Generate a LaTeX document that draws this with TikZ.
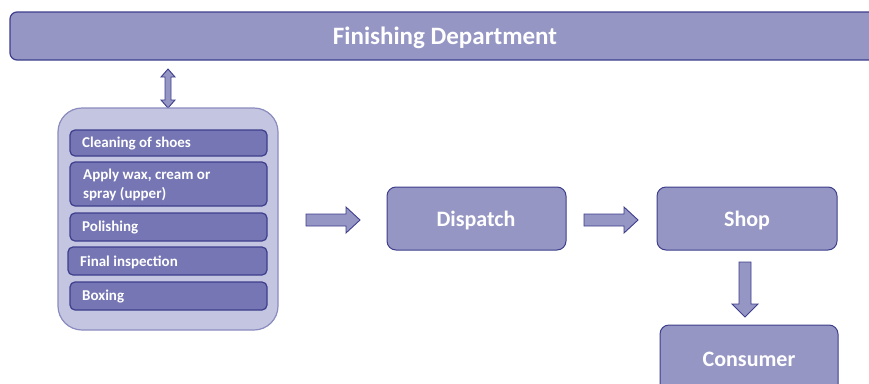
\documentclass[tikz,border=0pt]{standalone}
\usepackage{fontspec}
\setmainfont{Carlito}
\begin{document}
\begin{tikzpicture}[x=1pt,y=-1pt,
  bar/.style={draw=edgeblue,line width=1.2pt,fill=midblue,rounded corners=7pt},
  outer/.style={draw=lightedge,line width=1.2pt,fill=lightblue,rounded corners=24pt},
  inner/.style={draw=edgeblue,line width=1.2pt,fill=darkblue,rounded corners=5pt},
  box/.style={draw=edgeblue,line width=1pt,fill=midblue,rounded corners=9pt},
  blk/.style={draw=edgeblue,line width=0.9pt,fill=midblue},
  lbl/.style={text=white,font=\bfseries\fontsize{15}{18.5}\selectfont,anchor=west,align=left,inner sep=0pt},
  big/.style={text=white,font=\bfseries\fontsize{22}{26}\selectfont}
]
\definecolor{midblue}{HTML}{9596C4}
\definecolor{darkblue}{HTML}{7576B3}
\definecolor{lightblue}{HTML}{C4C5E1}
\definecolor{lightedge}{HTML}{8A8BBE}
\definecolor{edgeblue}{HTML}{3D3E8C}
\useasboundingbox (0,0) rectangle (869,383);
\clip (0,0) rectangle (869,383);
% top bar
\draw[bar] (10,12) rectangle (900,60);
\node[text=white,font=\bfseries\fontsize{25}{30}\selectfont] (fd) at (445,37.5) {Finishing Department};
% double arrow
\draw[blk] (165,77) -- (165,100) -- (161,100) -- (168,108) -- (175,100) -- (171,100) -- (171,77) -- (175,77) -- (168,69) -- (161,77) -- cycle;
% container
\draw[outer] (58,108) rectangle (278,330);
\draw[inner] (70,130) rectangle (267,156);
\node[lbl] (c1) at (82,144) {Cleaning of shoes};
\draw[inner] (70,162) rectangle (267,206);
\node[lbl] (c2) at (83,185) {Apply wax, cream or\\spray (upper)};
\draw[inner] (70,213) rectangle (267,241);
\node[lbl] (c3) at (82,228) {Polishing};
\draw[inner] (68,247) rectangle (267,275);
\node[lbl] (c4) at (80,262) {Final inspection};
\draw[inner] (70,282) rectangle (267,310);
\node[lbl] (c5) at (82,297) {Boxing};
% arrow 1
\draw[blk] (306,214) -- (346,214) -- (346,207) -- (360,220) -- (346,233) -- (346,226) -- (306,226) -- cycle;
% dispatch
\draw[box] (387,187) rectangle (566,250);
\node[big] (dp) at (476,221) {Dispatch};
% arrow 2
\draw[blk] (584,214) -- (624,214) -- (624,207) -- (638,220) -- (624,233) -- (624,226) -- (584,226) -- cycle;
% shop
\draw[box] (657,187) rectangle (837,250);
\node[big] (sh) at (747,221) {Shop};
% down arrow
\draw[blk] (739,262) -- (751,262) -- (751,304) -- (758,304) -- (745,317) -- (732,304) -- (739,304) -- cycle;
% consumer
\draw[box] (660,325) rectangle (838,400);
\node[big] (cs) at (749,359) {Consumer};
\end{tikzpicture}
\end{document}
